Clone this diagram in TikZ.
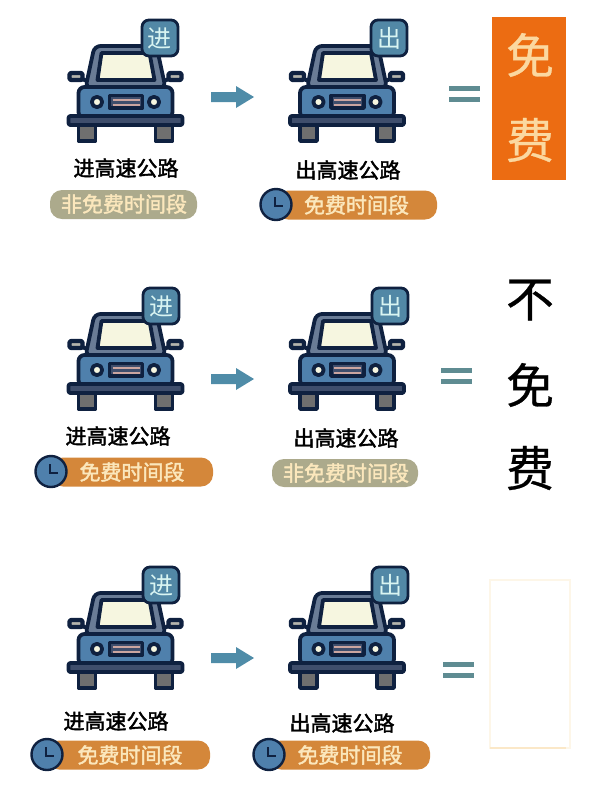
\documentclass[tikz,border=0pt]{standalone}
\usepackage{fontspec}
\setmainfont{Noto Sans CJK SC}
\newfontfamily\labelfont[FakeBold=2]{Noto Sans CJK SC}
\newfontfamily\bigfont[FakeBold=0.6]{Noto Sans CJK SC}
\usetikzlibrary{math}

\definecolor{carblue}{HTML}{4F80AC}
\definecolor{roofblue}{HTML}{6A7C96}
\definecolor{carline}{HTML}{0F2140}
\definecolor{badgeblue}{HTML}{5288A6}
\definecolor{badgetext}{HTML}{D9F5F2}
\definecolor{glass}{HTML}{F6F6E0}
\definecolor{mirrorgrey}{HTML}{B4B4AC}
\definecolor{bumper}{HTML}{3F4E6C}
\definecolor{wheelgrey}{HTML}{6F6F6F}
\definecolor{stripe}{HTML}{CBA5A0}
\definecolor{arrowblue}{HTML}{4F8CA8}
\definecolor{equalgrey}{HTML}{5F8C92}
\definecolor{pillbeige}{HTML}{ACAA8C}
\definecolor{pillorange}{HTML}{D4873A}
\definecolor{pilltext}{HTML}{FBE7BC}
\definecolor{freeorange}{HTML}{EC6C12}
\definecolor{freetext}{HTML}{FBD8A0}
\definecolor{faintedge}{HTML}{FDF6E8}
\definecolor{faintbottom}{HTML}{FBE8C8}

\tikzset{
  roadlabel/.style={font=\fontsize{10.5}{12}\selectfont\labelfont, text=black, inner sep=0pt},
  badge/.style={draw=carline, line width=1.4pt, fill=badgeblue, rounded corners=3.5pt,
    minimum size=18pt, inner sep=0pt, text=badgetext, font=\fontsize{12}{14}\selectfont},
  pill/.style={rounded corners=6pt, minimum height=14.5pt, inner sep=0pt, text=pilltext,
    font=\fontsize{10.5}{12}\selectfont\labelfont},
  clockface/.style={draw=carline, line width=1.2pt, fill=carblue, circle, minimum size=15.5pt, inner sep=0pt},
  bigchar/.style={font=\fontsize{24}{26}\selectfont\bigfont, inner sep=0pt},
  carpart/.style={draw=carline, line width=1.9pt, line join=round}
}

% one car, #1 = centre x, #2 = shift in y
\newcommand{\drawcar}[2]{
  \begin{scope}[shift={(#1,#2)}]
    \draw[carpart, fill=wheelgrey] (-47,125) rectangle (-30,141);
    \draw[carpart, fill=wheelgrey] (30,125) rectangle (47,141);
    \draw[carline, line width=2pt] (-48,77) -- (-36,82);
    \draw[carline, line width=2pt] (48,77) -- (36,82);
    \draw[carpart, fill=mirrorgrey, line width=2.2pt, rounded corners=1pt] (-56,73) rectangle (-43,80);
    \draw[carpart, fill=mirrorgrey, line width=2.2pt, rounded corners=1pt] (43,73) rectangle (56,80);
    \draw[carpart, fill=roofblue, rounded corners=3pt] (-40,88) -- (-31,46) -- (31,46) -- (40,88) -- cycle;
    \draw[carpart, fill=glass] (-28,80) -- (-24,53) -- (24,53) -- (29,80) -- cycle;
    \draw[carpart, fill=carblue, rounded corners=3pt] (-47,118) -- (-47,87) -- (47,87) -- (47,118) -- cycle;
    \draw[carpart, fill=glass] (-28.5,102) circle (5.2);
    \draw[carpart, fill=glass] (28.5,102) circle (5.2);
    \draw[carpart, fill=bumper] (-16,95.5) rectangle (17,108);
    \draw[stripe, line width=1pt] (-13,99.5) -- (14,99.5);
    \draw[stripe, line width=1pt] (-13,104.5) -- (14,104.5);
    \draw[carpart, fill=bumper, rounded corners=1pt] (-57,116) rectangle (57,125);
  \end{scope}
}

% block arrow, #1 = y of the shaft
\newcommand{\drawarrow}[1]{
  \fill[arrowblue] (211,#1-5) -- (236,#1-5) -- (236,#1-11) -- (254,#1) -- (236,#1+11) -- (236,#1+5) -- (211,#1+5) -- cycle;
}

% equals sign, #1 = left x, #2 = y of upper bar
\newcommand{\drawequal}[2]{
  \fill[equalgrey] (#1,#2) rectangle (#1+31,#2+5);
  \fill[equalgrey] (#1,#2+11) rectangle (#1+31,#2+16);
}

% clock and pill, #1 = clock x, #2 = y, #3 = pill right x, #4 = text x, #5 = name
\newcommand{\drawclockpill}[5]{
  \fill[pillorange, rounded corners=6pt] (#1,#2-14.5) rectangle (#3,#2+14.5);
  \node[pill] (#5text) at (#4,#2) {免费时间段};
  \node[clockface] (#5clock) at (#1,#2-0.5) {};
  \draw[carline, line width=1pt] (#1-1,#2-8) -- (#1-1,#2+1) -- (#1+7,#2+1);
}

\begin{document}
\begin{tikzpicture}[x=0.5pt,y=-0.5pt]
  \useasboundingbox (0,0) rectangle (600,799);

  % first row
  \drawcar{125.5}{0}
  \node[badge] (inone) at (160,38) {进};
  \node[roadlabel] (roadinone) at (126,168) {进高速公路};
  \fill[pillbeige, rounded corners=6pt] (50,190) rectangle (197,219);
  \node[pill] (pillone) at (124,204) {非免费时间段};
  \drawarrow{97}
  \drawcar{347}{0}
  \node[badge] (outone) at (389,38) {出};
  \node[roadlabel] (roadoutone) at (348,170) {出高速公路};
  \drawclockpill{276}{205}{437}{356.5}{one}
  \drawequal{449}{86}
  \fill[freeorange] (492,17) rectangle (566,180);
  \node[bigchar, text=freetext] (mianone) at (530,55) {免};
  \node[bigchar, text=freetext] (feione) at (530,140) {费};

  % second row
  \drawcar{125.5}{268}
  \node[badge] (intwo) at (161,306) {进};
  \node[roadlabel] (roadintwo) at (118,436) {进高速公路};
  \drawclockpill{51}{472}{213}{132}{two}
  \drawarrow{379}
  \drawcar{347}{268}
  \node[badge] (outtwo) at (390,306) {出};
  \node[roadlabel] (roadouttwo) at (346,438) {出高速公路};
  \fill[pillbeige, rounded corners=6pt] (272,459) rectangle (418,487);
  \node[pill] (pilltwo) at (346,473) {非免费时间段};
  \drawequal{441}{368}
  \node[bigchar] (butwo) at (530,300) {不};
  \node[bigchar] (miantwo) at (530,385) {免};
  \node[bigchar] (feitwo) at (530,468) {费};

  % third row
  \drawcar{125.5}{547}
  \node[badge] (inthree) at (161,585) {进};
  \node[roadlabel] (roadinthree) at (116,721) {进高速公路};
  \drawclockpill{47}{755}{210}{130}{three}
  \drawarrow{658}
  \drawcar{347}{547}
  \node[badge] (outthree) at (390,585) {出};
  \node[roadlabel] (roadoutthree) at (342,723) {出高速公路};
  \drawclockpill{269}{755}{430}{350}{four}
  \drawequal{443}{662}
  \draw[faintedge, line width=1pt] (490,580) rectangle (570,748);
  \draw[faintbottom, line width=1.2pt] (490,748) -- (566,748);
\end{tikzpicture}
\end{document}
